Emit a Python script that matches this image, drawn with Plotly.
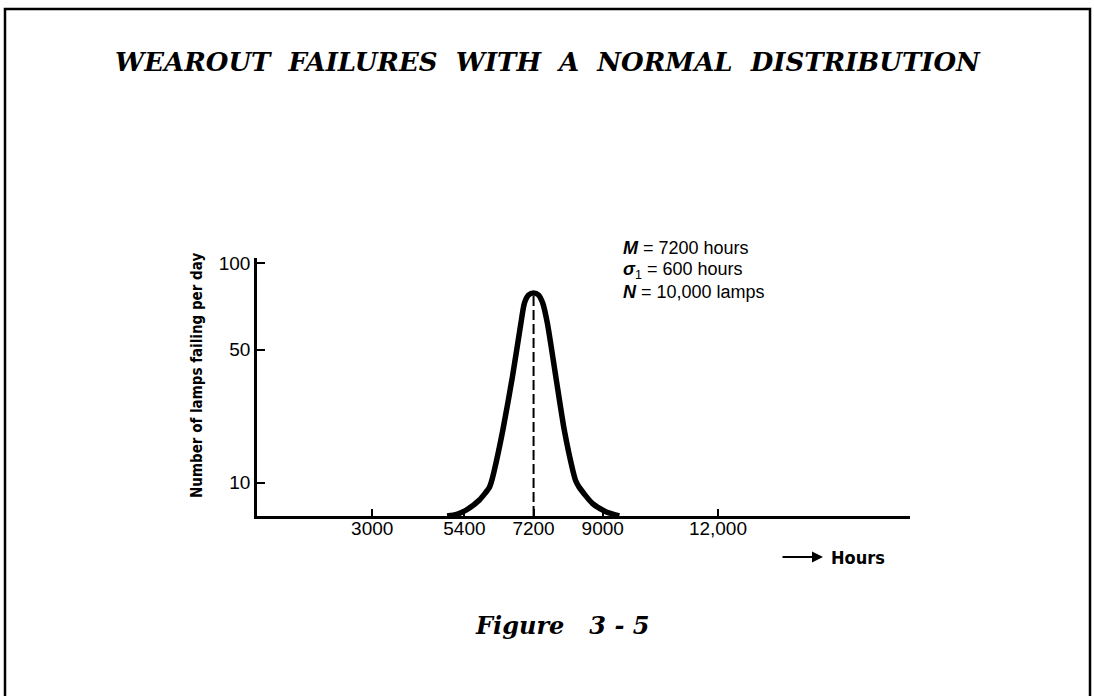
import plotly.graph_objects as go

# ---- data ----
hours = [4950, 5200, 5450, 5790, 6050, 6100, 6180, 6400, 6650, 6870, 6960, 7070, 7200,
         7330, 7440, 7560, 7780, 8000, 8220, 8300, 8390, 8730, 9080, 9430]
failures = [0, 0.5, 1.8, 4.8, 8.6, 10.2, 13.8, 25.8, 41.8, 57.9, 63.9, 66.4, 67.0,
            66.4, 63.9, 57.9, 41.8, 25.8, 13.8, 10.5, 8.6, 3.8, 1.3, 0]
mean_hours = [7200, 7200]
mean_line = [0, 67.0]

x_tickvals = [3000, 5400, 7200, 9000, 12000]
x_ticktext = ["3000", "5400", "7200", "9000", "12,000"]
y_tickvals = [10, 50, 76]
y_ticktext = ["10", "50", "100"]

title_text = "WEAROUT&nbsp;&nbsp;FAILURES&nbsp;&nbsp;WITH&nbsp;&nbsp;A&nbsp;&nbsp;NORMAL&nbsp;&nbsp;DISTRIBUTION"
fig_text = "Figure&nbsp;&nbsp;&nbsp;3&nbsp;-&nbsp;5"
stats = ["<b><i>M</i></b> = 7200 hours",
         "<b><i>σ</i></b><sub>1</sub> = 600 hours",
         "<b><i>N</i></b> = 10,000 lamps"]
ytitle = "<b>Number of lamps failing per day</b>"

# ---- layout geometry (pixels) ----
W, H = 1094, 696
L, R, T, B = 257, 910, 258, 516
pw, ph = R - L, B - T


def px(x):
    return (x - L) / pw


def py(y):
    return (B - y) / ph


serif = "DejaVu Serif, Liberation Serif, serif"
sans = "Liberation Sans, Arial, sans-serif"
narrow = "Liberation Sans Narrow, DejaVu Sans Condensed, Arial Narrow, sans-serif"

fig = go.Figure()
fig.add_trace(go.Scatter(x=hours, y=failures, mode="lines",
                         line=dict(color="black", width=5.5, shape="spline", smoothing=0.6),
                         hoverinfo="skip", showlegend=False))
fig.add_trace(go.Scatter(x=mean_hours, y=mean_line, mode="lines",
                         line=dict(color="black", width=2, dash="10px,4px"),
                         hoverinfo="skip", showlegend=False))

fig.update_xaxes(range=[0, 17000], showgrid=False, zeroline=False,
                 showline=True, linecolor="black", linewidth=2.5,
                 ticks="inside", ticklen=7, tickwidth=2, tickcolor="black",
                 tickvals=x_tickvals, ticktext=x_ticktext, ticklabelstandoff=-7,
                 tickfont=dict(family=sans, size=19, color="black"))
fig.update_yaxes(range=[0, 77.5], showgrid=False, zeroline=False,
                 showline=True, linecolor="black", linewidth=2.5,
                 ticks="inside", ticklen=8, tickwidth=2, tickcolor="black",
                 tickvals=y_tickvals, ticktext=y_ticktext,
                 tickfont=dict(family=sans, size=19, color="black"))

ann = []
ann.append(dict(text="<b><i>" + title_text + "</i></b>", x=px(548), y=py(62),
                xref="paper", yref="paper", showarrow=False, xanchor="center", yanchor="middle",
                font=dict(family=serif, size=26, color="black")))
ann.append(dict(text="<b><i>" + fig_text + "</i></b>", x=px(562), y=py(625),
                xref="paper", yref="paper", showarrow=False, xanchor="center", yanchor="middle",
                font=dict(family=serif, size=24, color="black")))
ann.append(dict(text=ytitle, x=px(197), y=py(376), textangle=-90,
                xref="paper", yref="paper", showarrow=False, xanchor="center", yanchor="middle",
                font=dict(family=narrow, size=15, color="black")))
for i, s in enumerate(stats):
    ann.append(dict(text=s, x=px(621), y=py(248 + 22 * i),
                    xref="paper", yref="paper", showarrow=False, xanchor="left", yanchor="middle",
                    font=dict(family=sans, size=18, color="black")))
ann.append(dict(text="<b>Hours</b>", x=px(829), y=py(557),
                xref="paper", yref="paper", showarrow=False, xanchor="left", yanchor="middle",
                font=dict(family=narrow, size=18, color="black")))
ann.append(dict(text="", x=px(823), y=py(557), ax=-42, ay=0,
                xref="paper", yref="paper", showarrow=True, arrowhead=2, arrowsize=1,
                arrowwidth=2.2, arrowcolor="black"))
fig.update_layout(annotations=ann)

# frame around the page
fig.add_shape(type="path", xref="paper", yref="paper",
              path=f"M {px(5)},{py(700)} L {px(5)},{py(9)} L {px(1090)},{py(9)} L {px(1090)},{py(700)}",
              line=dict(color="black", width=2.5))

fig.update_layout(width=W, height=H, margin=dict(l=L, r=W - R, t=T, b=H - B),
                  paper_bgcolor="white", plot_bgcolor="white", showlegend=False)

fig.write_html("out.html", config={"displayModeBar": False},
               post_script="document.body.style.margin='0';")
